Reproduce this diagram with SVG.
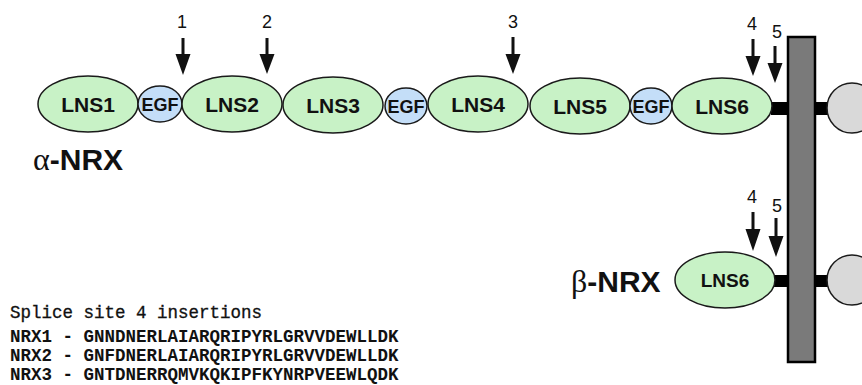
<svg xmlns="http://www.w3.org/2000/svg" width="862" height="385" viewBox="0 0 862 385">
<style>
.lns{fill:#c8f2c6;stroke:#1a1a1a;stroke-width:1.5}
.egf{fill:#c4def8;stroke:#1a1a1a;stroke-width:1.5}
.cyto{fill:#d9d9d9;stroke:#1a1a1a;stroke-width:1.5}
.lt{font-family:"Liberation Sans",Arial,sans-serif;font-weight:bold;font-size:21px;fill:#111;text-anchor:middle}
.et{font-family:"Liberation Sans",Arial,sans-serif;font-weight:bold;font-size:18px;fill:#111;text-anchor:middle}
.num{font-family:"Liberation Sans",Arial,sans-serif;font-size:18px;fill:#111;text-anchor:middle}
.big{font-family:"Liberation Sans",Arial,sans-serif;font-weight:bold;font-size:30px;fill:#111}
.greek{font-family:"Liberation Serif","Times New Roman",serif;font-weight:normal;font-size:32px}
.seq{font-family:"Liberation Mono","Courier New",monospace;font-weight:bold;font-size:17.5px;fill:#111}
.arrow{fill:#111}
.bar{fill:#000}
</style>
<g id="membrane">
<rect x="788" y="37" width="27" height="325" fill="#7a7a7a" stroke="#000" stroke-width="2.5"/>
</g>
<g id="connectors">
<rect class="bar" x="771" y="102" width="17" height="13"/>
<rect class="bar" x="815" y="102" width="13" height="13"/>
<rect class="bar" x="774" y="275" width="14" height="12"/>
<rect class="bar" x="815" y="275" width="13" height="12"/>
<path class="arrow" d="M181.5,38 H184.5 V54 H190.5 L183,75 L175.5,54 H181.5 Z"/>
<path class="arrow" d="M265.5,38 H268.5 V54 H274.5 L267,74 L259.5,54 H265.5 Z"/>
<path class="arrow" d="M511.5,37 H514.5 V54 H520.5 L513,74 L505.5,54 H511.5 Z"/>
<path class="arrow" d="M751.5,39 H754.5 V56 H760.5 L753,76 L745.5,56 H751.5 Z"/>
<path class="arrow" d="M773.5,46 H776.5 V63 H782.5 L775,83 L767.5,63 H773.5 Z"/>
<path class="arrow" d="M751.5,212 H754.5 V229 H760.5 L753,251 L745.5,229 H751.5 Z"/>
<path class="arrow" d="M774.5,218 H777.5 V236 H783.5 L776,257 L768.5,236 H774.5 Z"/>
</g>
<g id="labels-sites">
<text class="num" x="182" y="28">1</text>
<text class="num" x="267" y="28">2</text>
<text class="num" x="513" y="28">3</text>
<text class="num" x="752" y="30">4</text>
<text class="num" x="777" y="38">5</text>
<text class="num" x="752" y="203">4</text>
<text class="num" x="777" y="212">5</text>
</g>
<g id="lns1"><ellipse class="lns" cx="88" cy="104" rx="50" ry="28"/><text class="lt" x="88" y="111.5">LNS1</text></g>
<g id="egf1"><ellipse class="egf" cx="160" cy="104" rx="22" ry="18"/><text class="et" x="160" y="110.5">EGF</text></g>
<g id="lns2"><ellipse class="lns" cx="232" cy="104" rx="50" ry="28"/><text class="lt" x="232" y="111.5">LNS2</text></g>
<g id="lns3"><ellipse class="lns" cx="333" cy="105" rx="50" ry="28"/><text class="lt" x="333" y="112.5">LNS3</text></g>
<g id="egf2"><ellipse class="egf" cx="406" cy="106" rx="21" ry="18"/><text class="et" x="406" y="112.5">EGF</text></g>
<g id="lns4"><ellipse class="lns" cx="478" cy="104" rx="50" ry="28"/><text class="lt" x="478" y="111.5">LNS4</text></g>
<g id="lns5"><ellipse class="lns" cx="580" cy="106" rx="50" ry="28"/><text class="lt" x="580" y="113.5">LNS5</text></g>
<g id="egf3"><ellipse class="egf" cx="651" cy="106" rx="21" ry="18"/><text class="et" x="651" y="112.5">EGF</text></g>
<g id="lns6a"><ellipse class="lns" cx="722" cy="106" rx="50" ry="28"/><text class="lt" x="722" y="113.5">LNS6</text></g>
<g id="cytoA"><ellipse class="cyto" cx="852" cy="108" rx="25" ry="25"/></g>
<g id="lns6b"><ellipse class="lns" cx="725" cy="280" rx="50" ry="28"/><text class="lt" x="725" y="287" style="font-size:19px">LNS6</text></g>
<g id="cytoB"><ellipse class="cyto" cx="852" cy="280" rx="25" ry="25"/></g>
<g id="titles">
<text class="big" x="33" y="170"><tspan class="greek">α</tspan>-NRX</text>
<text class="big" x="571" y="292"><tspan class="greek">β</tspan>-NRX</text>
</g>
<g id="sequences">
<text class="seq" x="10" y="318" style="font-weight:normal;stroke:#111;stroke-width:0.3">Splice site 4 insertions</text>
<text class="seq" x="10" y="342">NRX1 - GNNDNERLAIARQRIPYRLGRVVDEWLLDK</text>
<text class="seq" x="10" y="361">NRX2 - GNFDNERLAIARQRIPYRLGRVVDEWLLDK</text>
<text class="seq" x="10" y="380">NRX3 - GNTDNERRQMVKQKIPFKYNRPVEEWLQDK</text>
</g>
</svg>
